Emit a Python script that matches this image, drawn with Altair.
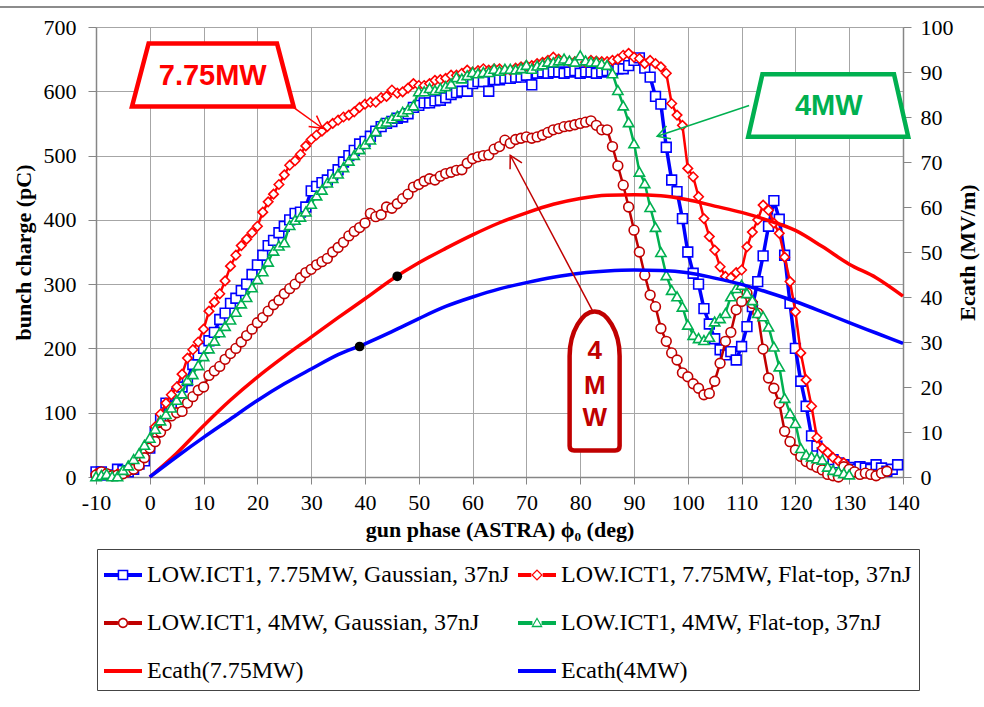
import altair as alt
import pandas as pd

# ---------------- data ----------------
phase_gauss_775 = list(range(-10, 140))
charge_gauss_775 = [
    8, 8, 3, 3, 12, 10, 8, 12, 20, 25,
    45, 70, 90, 115, 110, 130, 140, 150, 175, 190,
    200, 212, 225, 245, 255, 270, 278, 290, 300, 315,
    330, 345, 360, 368, 380, 390, 400, 410, 412, 420,
    445, 452, 458, 462, 470, 478, 490, 500, 508, 518,
    522, 530, 538, 545, 550, 553, 558, 560, 565, 575,
    578, 582, 582, 585, 586, 590, 595, 598, 600, 600,
    612, 615, 615, 600, 618, 618, 620, 620, 622, 622,
    625, 610, 628, 630, 628, 630, 630, 628, 630, 632,
    628, 630, 630, 628, 630, 632, 632, 635, 635, 640,
    648, 652, 636, 622, 592, 580, 513, 462, 444, 402,
    350, 317, 300, 262, 238, 215, 198, 190, 195, 182,
    203, 234, 265, 304, 344, 390, 430, 401, 345, 270,
    200, 149, 110, 64, 48, 38, 30, 27, 22, 19,
    15, 12, 16, 14, 12, 19, 14, 9, 12, 19,
]

phase_flat_775 = list(range(-10, 131))
charge_flat_775 = [
    5, 5, 3, 2, 5, 5, 8, 15, 25, 40,
    55, 78, 98, 115, 128, 140, 160, 185, 198, 210,
    230, 258, 272, 285, 305, 328, 345, 360, 370, 380,
    390, 412, 428, 440, 455, 470, 485, 492, 502, 515,
    525, 532, 538, 545, 550, 555, 560, 563, 568, 575,
    580, 583, 583, 590, 592, 602, 597, 599, 605, 612,
    609, 609, 612, 617, 618, 620, 625, 625, 628, 633,
    630, 632, 635, 633, 635, 635, 633, 633, 636, 638,
    640, 640, 643, 645, 648, 653, 650, 648, 646, 646,
    646, 645, 648, 647, 646, 646, 648, 650, 656, 659,
    653, 651, 643, 648, 643, 638, 628, 581, 563, 547,
    480, 467, 436, 402, 374, 353, 327, 312, 310, 318,
    322, 358, 381, 400, 423, 415, 395, 379, 342, 304,
    257, 193, 151, 110, 61, 45, 38, 30, 25, 22, 11,
]

phase_gauss_4 = list(range(-10, 138))
charge_gauss_4 = [
    3, 8, 5, 2, 3, 5, 10, 12, 18, 30,
    45, 55, 70, 80, 95, 100, 102, 115, 125, 135,
    140, 158, 165, 172, 183, 192, 200, 210, 220, 230,
    240, 248, 258, 268, 275, 285, 293, 300, 310, 318,
    323, 330, 335, 340, 350, 357, 365, 375, 382, 388,
    395, 410, 405, 408, 420, 418, 425, 433, 440, 451,
    455, 460, 464, 462, 468, 472, 474, 477, 478, 488,
    495, 498, 500, 501, 510, 514, 524, 519, 525, 527,
    529, 527, 529, 532, 536, 540, 542, 545, 546, 548,
    550, 552, 554, 547, 540, 540, 514, 484, 454, 420,
    384, 350, 314, 283, 265, 231, 211, 193, 182, 162,
    156, 145, 138, 128, 130, 149, 177, 211, 225, 260,
    273, 286, 270, 255, 199, 154, 138, 115, 71, 55,
    42, 32, 24, 19, 15, 11, 4, 2, 0, 16,
    12, 8, 4, 6, 4, 2, 6, 9,
]

phase_flat_4 = list(range(-10, 131))
charge_flat_4 = [
    1, 3, 5, 1, 1, 11, 18, 28, 37, 50,
    61, 75, 88, 98, 108, 120, 130, 151, 160, 174,
    188, 200, 212, 225, 235, 245, 257, 270, 280, 295,
    308, 320, 335, 352, 360, 365, 392, 400, 405, 413,
    425, 438, 447, 458, 465, 472, 482, 492, 501, 510,
    518, 525, 538, 550, 553, 558, 562, 568, 572, 578,
    600, 600, 605, 602, 605, 608, 612, 622, 620, 625,
    630, 628, 630, 630, 635, 632, 635, 635, 634, 636,
    641, 635, 640, 642, 646, 645, 648, 651, 648, 646,
    656, 648, 646, 646, 643, 641, 628, 602, 578, 552,
    519, 475, 457, 420, 389, 350, 314, 291, 281, 265,
    237, 221, 216, 213, 218, 242, 247, 255, 281, 294,
    299, 286, 275, 255, 250, 234, 203, 172, 123, 99,
    84, 45, 35, 32, 29, 27, 16, 11, 9, 6, 4,
]

phase_ecath = list(range(0, 141, 5))
ecath_775 = [0, 5.3, 11.4, 17.1, 22.2, 26.8, 31.1, 35.4, 39.6, 43.9,
             47.6, 50.8, 53.8, 56.5, 58.7, 60.6, 61.9, 62.6, 62.7, 62.5,
             61.6, 60.2, 58.8, 57.0, 54.8, 51.2, 47.3, 44.3, 40.2]
ecath_4 = [0, 4.5, 8.8, 12.9, 17.0, 20.7, 24.0, 27.2, 29.6, 32.3,
           35.2, 37.9, 40.0, 41.8, 43.2, 44.4, 45.3, 45.8, 46.0, 45.9,
           45.4, 44.2, 42.8, 41.0, 39.0, 36.7, 34.3, 32.0, 29.7]

dot_phase = [46, 39]
dot_ecath = [44.6, 29.0]

series_names = [
    "LOW.ICT1, 7.75MW, Gaussian, 37nJ",
    "LOW.ICT1, 7.75MW, Flat-top, 37nJ",
    "LOW.ICT1, 4MW, Gaussian, 37nJ",
    "LOW.ICT1, 4MW, Flat-top, 37nJ",
    "Ecath(7.75MW)",
    "Ecath(4MW)",
]
series_colors = ["#0000FF", "#FF0000", "#C00000", "#00B050", "#FF0000", "#0000FF"]

# annotations (positions in data units of the left axis)
label_text = ["7.75MW", "4MW"]
label_phase = [11.7, 126.2]
label_charge = [624.0, 577.0]
label_colors = ["#FF0000", "#00B050"]
tall_text = ["4", "M", "W"]
tall_phase = [82.7, 82.7, 82.7]
tall_charge = [196.0, 142.0, 92.0]
arrow_start_phase = [26.7, 111.4, 82.4]
arrow_start_charge = [575.0, 578.0, 257.0]
arrow_end_phase = [32.1, 94.3, 67.0]
arrow_end_charge = [542.5, 530.0, 500.5]
arrow_colors = ["#FF0000", "#00B050", "#C00000"]
arrow_angles = [126, 251, 332]
box_phase = [11.71, 126.1, 82.68]
box_charge = [625.4, 577.9, 149.3]

# ---------------- styling ----------------
SERIF = "Liberation Serif"
SANS = "Liberation Sans"
GRID = "#a6a6a6"
AXC = "#868686"


def frame(x, y):
    n = min(len(x), len(y))
    return pd.DataFrame({"x": x[:n], "y": y[:n]})


x_enc = alt.X(
    "x:Q",
    scale=alt.Scale(domain=[-10, 140], nice=False, zero=False),
    axis=alt.Axis(
        values=list(range(-10, 141, 10)), title="gun phase (ASTRA) ϕ₀ (deg)",
        labelExpr="'' + datum.value",
        grid=True, gridColor=GRID, gridWidth=1, domainColor=AXC, domainWidth=1.5,
        tickColor=AXC, tickSize=7, labelFont=SERIF, labelFontSize=22, labelColor="black",
        labelPadding=8, titleFont=SERIF, titleFontSize=22, titleFontWeight="bold",
        titleColor="black", titlePadding=6, labelFlush=False, labelOverlap=False,
    ),
)

left_axis = alt.Axis(
    values=list(range(0, 701, 100)), title="bunch charge (pC)", orient="left",
    grid=True, gridColor=GRID, gridWidth=1, domainColor=AXC, domainWidth=1.5,
    tickColor=AXC, tickSize=8, labelFont=SERIF, labelFontSize=22, labelColor="black",
    labelPadding=12, titleFont=SERIF, titleFontSize=22, titleFontWeight="bold",
    titleColor="black", titlePadding=8, labelFlush=False,
)
right_axis = alt.Axis(
    values=list(range(0, 101, 10)), title="Ecath (MV/m)", orient="right",
    grid=False, domainColor=AXC, domainWidth=1.5, tickColor=AXC, tickSize=8,
    labelFont=SERIF, labelFontSize=22, labelColor="black", labelPadding=9,
    titleFont=SERIF, titleFontSize=22, titleFontWeight="bold", titleColor="black",
    titleAngle=270, titlePadding=26, labelFlush=False,
)


def y_left(field="y"):
    return alt.Y(f"{field}:Q", scale=alt.Scale(domain=[0, 700], nice=False), axis=left_axis)


def y_right():
    return alt.Y("y:Q", scale=alt.Scale(domain=[0, 100], nice=False), axis=right_axis)


# ---------------- charge series (left axis) ----------------
charge_specs = [
    (phase_gauss_775, charge_gauss_775, "#0000FF", "square", 95, 3.5),
    (phase_flat_775, charge_flat_775, "#FF0000", "diamond", 90, 2.5),
    (phase_gauss_4, charge_gauss_4, "#C00000", "circle", 95, 2.5),
    (phase_flat_4, charge_flat_4, "#00B050", "triangle-up", 105, 2.5),
]
left_layers = []
for ph, q, col, shp, sz, lw in charge_specs:
    base = alt.Chart(frame(ph, q))
    left_layers.append(base.mark_line(color=col, strokeWidth=lw).encode(x=x_enc, y=y_left()))
    left_layers.append(
        base.mark_point(shape=shp, size=sz, color=col, fill="white", filled=False,
                        strokeWidth=1.6, opacity=1).encode(x=x_enc, y=y_left())
    )

# legend (built from the series names through colour / shape scales)
def seg(a, b, h=0.1):
    return f"M{a},{-h}L{b},{-h}L{b},{h}L{a},{h}Z"

leg_square = (seg(-1, -0.28) + seg(0.28, 1) +
              "M-0.28,-0.28L0.28,-0.28L0.28,0.28L-0.28,0.28Z"
              "M-0.2,-0.2L-0.2,0.2L0.2,0.2L0.2,-0.2Z")
leg_diamond = (seg(-1, -0.3) + seg(0.3, 1) +
               "M0,-0.3L0.3,0L0,0.3L-0.3,0Z"
               "M0,-0.21L-0.21,0L0,0.21L0.21,0Z")
leg_circle = (seg(-1, -0.27) + seg(0.27, 1) +
              "M-0.27,0A0.27 0.27 0 1 1 0.27,0A0.27 0.27 0 1 1 -0.27,0Z"
              "M-0.19,0A0.19 0.19 0 1 0 0.19,0A0.19 0.19 0 1 0 -0.19,0Z")
leg_triangle = (seg(-1, -0.24) + seg(0.24, 1) +
                "M0,-0.3L0.3,0.22L-0.3,0.22Z"
                "M0,-0.18L-0.19,0.15L0.19,0.15Z")
leg_line = seg(-1, 1)
legend_shapes = [leg_square, leg_diamond, leg_circle, leg_triangle, leg_line, leg_line]

legend_props = dict(
    title=None, orient="none", legendX=1, legendY=522, columns=2, direction="horizontal",
    columnPadding=8, rowPadding=17, padding=7, strokeColor="#444444", fillColor="white",
    symbolSize=1444, symbolStrokeWidth=0, symbolOpacity=1, labelFont=SERIF,
    labelFontSize=24, labelColor="black", labelOffset=5, labelLimit=0,
)
legend_layer = alt.Chart(pd.DataFrame({"s": series_names})).mark_point(
    filled=True, opacity=0
).encode(
    color=alt.Color("s:N", scale=alt.Scale(domain=series_names, range=series_colors),
                    legend=alt.Legend(**legend_props)),
    shape=alt.Shape("s:N", scale=alt.Scale(domain=series_names, range=legend_shapes),
                    legend=alt.Legend(**legend_props)),
)
left_layers.append(legend_layer)
left_group = alt.layer(*left_layers)

# ---------------- Ecath (right axis) ----------------
right_layers = [
    alt.Chart(frame(phase_ecath, ecath_775)).mark_line(color="#FF0000", strokeWidth=3.5,
                                                       interpolate="monotone")
    .encode(x=x_enc, y=y_right()),
    alt.Chart(frame(phase_ecath, ecath_4)).mark_line(color="#0000FF", strokeWidth=3.5,
                                                     interpolate="monotone")
    .encode(x=x_enc, y=y_right()),
    alt.Chart(frame(dot_phase, dot_ecath)).mark_point(filled=True, color="black", size=95, opacity=1)
    .encode(x=x_enc, y=y_right()),
]
right_group = alt.layer(*right_layers)

# ---------------- annotations ----------------
y_ann = alt.Y("y:Q", scale=alt.Scale(domain=[0, 700], nice=False), axis=None)
trap_775 = "M-0.642,-0.315L0.642,-0.315L0.808,0.315L-0.808,0.315Z"
trap_4 = "M-0.658,-0.313L0.658,-0.313L0.80,0.313L-0.80,0.313Z"
bullet = ("M-0.25,0.65Q-0.25,0.695 -0.205,0.695L0.205,0.695Q0.25,0.695 0.25,0.65"
          "L0.25,-0.25C0.25,-0.5 0.12,-0.695 0,-0.695C-0.12,-0.695 -0.25,-0.5 -0.25,-0.25Z")
box_shapes = [trap_775, trap_4, bullet]
arrowhead = "M-0.55,1L0,0L0.55,1"

ann_layers = []
for i in range(3):
    ann_layers.append(
        alt.Chart(pd.DataFrame({"x": [arrow_start_phase[i]], "y": [arrow_start_charge[i]],
                                "x2": [arrow_end_phase[i]], "y2": [arrow_end_charge[i]]}))
        .mark_rule(color=arrow_colors[i], strokeWidth=1.5)
        .encode(x=x_enc, y=y_ann, x2="x2:Q", y2="y2:Q")
    )
    ann_layers.append(
        alt.Chart(frame([arrow_end_phase[i]], [arrow_end_charge[i]]))
        .mark_point(shape=arrowhead, size=600, angle=arrow_angles[i], color=arrow_colors[i],
                    filled=False, strokeWidth=1.5, opacity=1)
        .encode(x=x_enc, y=y_ann)
    )
    ann_layers.append(
        alt.Chart(frame([box_phase[i]], [box_charge[i]]))
        .mark_point(shape=box_shapes[i], size=40000, color=arrow_colors[i], fill="white",
                    filled=False, strokeWidth=4.5, opacity=1, fillOpacity=1)
        .encode(x=x_enc, y=y_ann)
    )
for i in range(2):
    ann_layers.append(
        alt.Chart(pd.DataFrame({"x": [label_phase[i]], "y": [label_charge[i]], "t": [label_text[i]]}))
        .mark_text(font=SANS, fontWeight="bold", fontSize=29, color=label_colors[i], baseline="middle")
        .encode(x=x_enc, y=y_ann, text="t:N")
    )
ann_layers.append(
    alt.Chart(pd.DataFrame({"x": tall_phase, "y": tall_charge, "t": tall_text}))
    .mark_text(font=SANS, fontWeight="bold", fontSize=26, color="#C00000", baseline="middle")
    .encode(x=x_enc, y=y_ann, text="t:N")
)
ann_layers.append(
    alt.Chart(pd.DataFrame({"k": [0]})).mark_rule(color="#8c8c8c", strokeWidth=2)
    .encode(x=alt.value(-96), x2=alt.value(888), y=alt.value(-20))
)
ann_group = alt.layer(*ann_layers)

chart = (
    alt.layer(left_group, right_group, ann_group)
    .resolve_scale(y="independent")
    .properties(
        width=807, height=450,
        padding={"left": 96, "top": 27, "right": 81, "bottom": 230},
        autosize=alt.AutoSizeParams(type="none"),
        background="white",
    )
    .configure_view(stroke=None)
)

chart.save("out.html", embed_options={"renderer": "svg", "actions": False})
